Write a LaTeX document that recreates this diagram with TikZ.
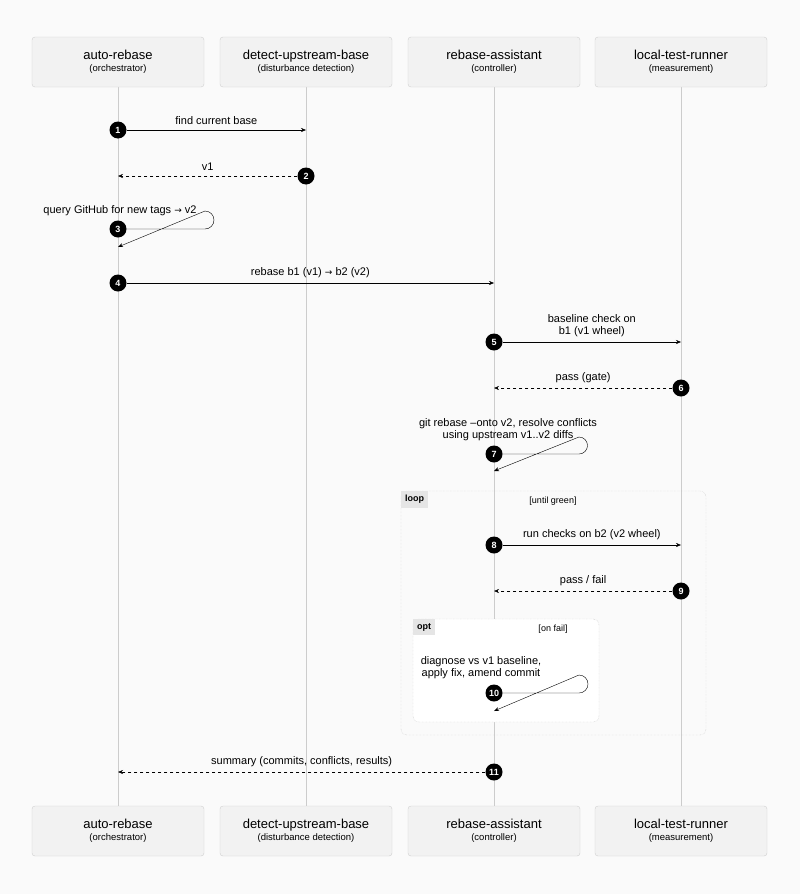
\documentclass[tikz,border=0pt]{standalone}
\usepackage{fontspec}
\setmainfont{Liberation Sans}
\newfontfamily\symfont{DejaVu Sans}
\usetikzlibrary{arrows.meta,positioning}
\newcommand{\ra}{{\symfont\small →}}

\begin{document}
\begin{tikzpicture}[x=1pt,y=-1pt,>={Stealth[length=5pt,width=4pt]},
  actor/.style={draw=black!18,fill=black!5,rounded corners=3pt,minimum width=172pt,
    minimum height=50pt,align=center,font=\fontsize{13}{14}\selectfont},
  num/.style={circle,fill=black,text=white,inner sep=0pt,minimum size=17pt,
    font=\fontsize{9}{9}\selectfont\bfseries},
  msg/.style={->,thin},
  ret/.style={->,thin,dashed},
  lbl/.style={font=\fontsize{11}{12}\selectfont,align=center},
  life/.style={draw=black!20,thin},
  frame/.style={draw=black!25,densely dotted,rounded corners=6pt},
  tag/.style={fill=black!10,font=\fontsize{9}{9}\selectfont\bfseries,inner sep=4pt,anchor=north west}]

  \useasboundingbox[fill=black!2] (0,0) rectangle (800,894);

  % actors, top and bottom
  \foreach \n/\x/\t/\s in {ar/118/auto-rebase/orchestrator,
      du/306/detect-upstream-base/disturbance detection,
      ra/494/rebase-assistant/controller,
      lt/681/local-test-runner/measurement} {
    \draw[life] (\x,87) -- (\x,806);
    \node[actor] (\n top) at (\x,62) {\t\\[-2pt]{\fontsize{9.5}{10}\selectfont(\s)}};
    \node[actor] (\n bot) at (\x,831) {\t\\[-2pt]{\fontsize{9.5}{10}\selectfont(\s)}};
  }

  % frames
  \draw[frame] (401,491) rectangle (706,735);
  \node[tag] (looptag) at (401,491) {loop};
  \node[font=\fontsize{9}{9}\selectfont] (loopguard) at (553,501) {[until green]};
  \draw[frame,fill=white] (413,619) rectangle (599,722);
  \node[tag] (opttag) at (413,619) {opt};
  \node[font=\fontsize{9}{9}\selectfont] (optguard) at (553,629) {[on fail]};

  % points on lifelines
  \coordinate (a2) at (118,176);
  \coordinate (a3) at (118,247);
  \coordinate (b1) at (306,130);
  \coordinate (c4) at (494,283);
  \coordinate (c6) at (494,388);
  \coordinate (c7) at (494,471);
  \coordinate (c9) at (494,591);
  \coordinate (c10) at (494,711);
  \coordinate (a11) at (118,772);
  \coordinate (d5) at (681,342);
  \coordinate (d8) at (681,545);

  % step markers
  \node[num] (n1) at (118,130) {1};
  \node[num] (n2) at (306,176) {2};
  \node[num] (n3) at (118,229) {3};
  \node[num] (n4) at (118,283) {4};
  \node[num] (n5) at (494,342) {5};
  \node[num] (n6) at (681,388) {6};
  \node[num] (n7) at (494,454) {7};
  \node[num] (n8) at (494,545) {8};
  \node[num] (n9) at (681,591) {9};
  \node[num] (n10) at (494,693) {10};
  \node[num] (n11) at (494,772) {11};

  % messages
  \draw[msg] (n1) -- node[lbl,above=2pt] {find current base} (b1);
  \draw[ret] (n2) -- node[lbl,above=2pt] {v1} (a2);
  \draw[msg] (n3.east) -- (205,229) arc[start angle=90,end angle=-90,radius=9] -- (a3);
  \node[lbl] (l3) at (120,211) {query GitHub for new tags \ra{} v2};
  \draw[msg] (n4) -- node[lbl,above=2pt] {rebase b1 (v1) \ra{} b2 (v2)} (c4);
  \draw[msg] (n5) -- node[lbl,above=2pt] {baseline check on\\b1 (v1 wheel)} (d5);
  \draw[ret] (n6) -- node[lbl,above=2pt] {pass (gate)} (c6);
  \draw[msg] (n7.east) -- (579,454) arc[start angle=90,end angle=-90,radius=8.5] -- (c7);
  \node[lbl] (l7) at (508,430) {git rebase --onto v2, resolve conflicts\\using upstream v1..v2 diffs};
  \draw[msg] (n8) -- node[lbl,above=2pt] {run checks on b2 (v2 wheel)} (d8);
  \draw[ret] (n9) -- node[lbl,above=2pt] {pass / fail} (c9);
  \draw[msg] (n10.east) -- (579,693) arc[start angle=90,end angle=-90,radius=9] -- (c10);
  \node[lbl] (l10) at (481,668) {diagnose vs v1 baseline,\\apply fix, amend commit};
  \draw[ret] (n11) -- node[lbl,above=2pt] {summary (commits, conflicts, results)} (a11);
\end{tikzpicture}
\end{document}
